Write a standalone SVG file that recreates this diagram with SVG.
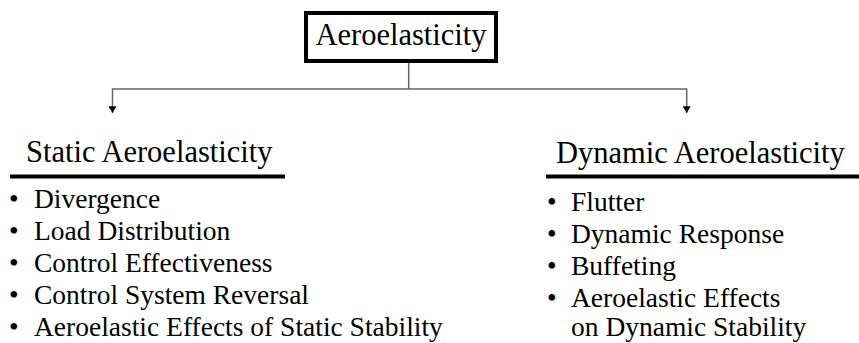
<svg xmlns="http://www.w3.org/2000/svg" width="859" height="343" viewBox="0 0 859 343">
<defs>
<style>
text{font-family:'Liberation Serif','Times New Roman',serif;fill:#000}
.title{font-size:30.5px}
.head{font-size:30.5px}
.item{font-size:27.5px}
.conn{fill:none;stroke:#666;stroke-width:1.5}
.rule{stroke:#000;stroke-width:4}
</style>
<marker id="arr" viewBox="0 0 10 12" refX="10" refY="6" markerWidth="10" markerHeight="8" markerUnits="userSpaceOnUse" orient="auto">
<path d="M0,0 L10,6 L0,12 Z" fill="#000"/>
</marker>
</defs>
<rect width="859" height="343" fill="#fff"/>
<g id="connectors">
<path class="conn" d="M408.7,63 V89"/>
<path class="conn" d="M408.7,89 H112.5 V113" marker-end="url(#arr)"/>
<path class="conn" d="M408.7,89 H686.7 V113" marker-end="url(#arr)"/>
</g>
<g id="root">
<rect x="306" y="13" width="190" height="48" fill="#fff" stroke="#000" stroke-width="4"/>
<text class="title" x="401" y="45" text-anchor="middle">Aeroelasticity</text>
</g>
<g id="static">
<text class="head" x="26" y="162">Static Aeroelasticity</text>
<line class="rule" x1="10" y1="176.5" x2="285" y2="176.5"/>
<text class="item" x="9" y="208">•</text><text class="item" x="34" y="208">Divergence</text>
<text class="item" x="9" y="240">•</text><text class="item" x="34" y="240">Load Distribution</text>
<text class="item" x="9" y="272">•</text><text class="item" x="34" y="272">Control Effectiveness</text>
<text class="item" x="9" y="304">•</text><text class="item" x="34" y="304">Control System Reversal</text>
<text class="item" x="9" y="336">•</text><text class="item" x="34" y="336">Aeroelastic Effects of Static Stability</text>
</g>
<g id="dynamic">
<text class="head" x="556" y="163">Dynamic Aeroelasticity</text>
<line class="rule" x1="546" y1="176.5" x2="859" y2="176.5"/>
<text class="item" x="547" y="211">•</text><text class="item" x="571" y="211">Flutter</text>
<text class="item" x="547" y="243">•</text><text class="item" x="571" y="243">Dynamic Response</text>
<text class="item" x="547" y="275">•</text><text class="item" x="571" y="275">Buffeting</text>
<text class="item" x="547" y="307">•</text><text class="item" x="571" y="307">Aeroelastic Effects</text>
<text class="item" x="571" y="336">on Dynamic Stability</text>
</g>
</svg>
